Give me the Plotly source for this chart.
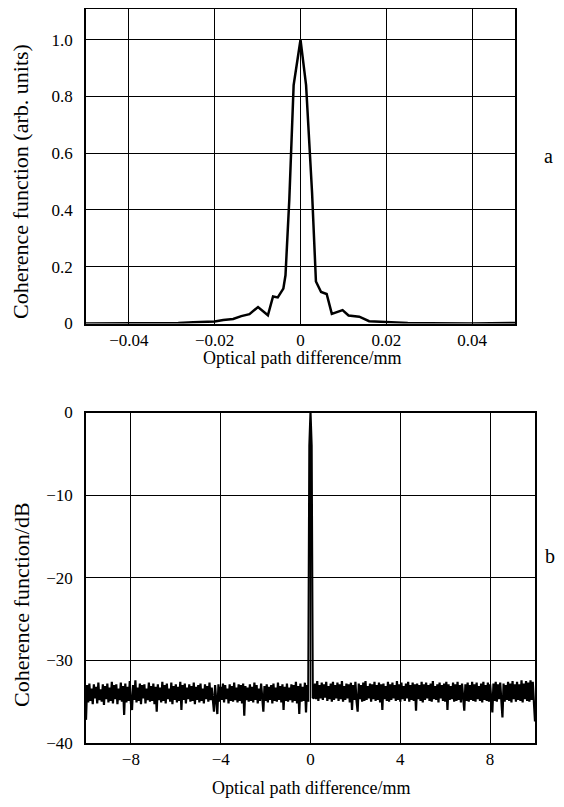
import numpy as np
import plotly.graph_objects as go

# the page body has an 8px margin on every side, so the figure is sized to fit inside it
OFF = 8
W, H = 564 - 2 * OFF, 807 - 2 * OFF

# ---------------- Panel (a): coherence function, linear ----------------
opd_a = [-0.05, -0.04, -0.035, -0.03, -0.0285, -0.025, -0.02, -0.018, -0.0157, -0.0138,
         -0.0119, -0.0099, -0.0076, -0.0064, -0.0053, -0.004, -0.0035, -0.0026, -0.0016, 0.0,
         0.0013, 0.0027, 0.0036, 0.0048, 0.0061, 0.0073, 0.0098, 0.0112, 0.0137, 0.016,
         0.0199, 0.025, 0.03, 0.04, 0.05]
coh_a = [0.0, 0.0, 0.0, 0.001, 0.002, 0.004, 0.007, 0.012, 0.016, 0.026,
         0.033, 0.058, 0.029, 0.095, 0.092, 0.123, 0.17, 0.44, 0.84, 1.0,
         0.84, 0.46, 0.148, 0.111, 0.104, 0.034, 0.047, 0.028, 0.024, 0.008,
         0.005, 0.002, 0.001, 0.0, 0.002]
xticks_a = [-0.04, -0.02, 0, 0.02, 0.04]
xtext_a = ["\u22120.04", "\u22120.02", "0", "0.02", "0.04"]
yticks_a = [0, 0.2, 0.4, 0.6, 0.8, 1.0]
ytext_a = ["0", "0.2", "0.4", "0.6", "0.8", "1.0"]

# ---------------- Panel (b): coherence function, dB ----------------
# noise floor read off the picture, sampled every 0.05 mm
left_start, left_step = -10.0, 0.05
noise_left = [
    -37.2, -33.0, -35.1, -32.8, -34.9, -33.4, -35.3, -32.9, -34.6, -33.2, -35.2, -32.7, -34.8, -33.5, -35.0, -32.9, -35.4, -33.1, -34.7, -32.8,
    -35.1, -33.3, -34.9, -32.6, -35.2, -33.0, -34.7, -32.9, -35.3, -33.4, -34.8, -32.7, -35.0, -33.1, -36.6, -32.8, -35.1, -33.2, -34.9, -32.5,
    -35.2, -36.0, -33.0, -34.8, -32.4, -35.1, -33.3, -34.9, -32.8, -35.3, -33.0, -34.6, -32.9, -35.2, -33.4, -34.8, -32.7, -35.0, -33.1, -34.9,
    -32.8, -35.3, -33.2, -36.2, -32.9, -34.8, -33.3, -35.1, -32.6, -34.9, -33.0, -35.2, -32.8, -34.7, -33.4, -35.0, -32.7, -35.3, -33.1, -34.8,
    -32.9, -35.1, -33.2, -34.9, -32.6, -36.0, -33.0, -34.8, -32.8, -35.2, -33.3, -34.7, -32.9, -35.0, -33.1, -34.9, -32.7, -35.3, -33.2, -34.8,
    -33.0, -35.1, -32.8, -34.9, -33.4, -35.2, -32.9, -34.7, -33.1, -35.0, -32.7, -34.8, -33.3, -35.1, -36.2, -33.0, -34.9, -36.5, -32.9, -35.0,
    -33.2, -34.8, -32.8, -35.1, -33.0, -34.7, -33.4, -35.2, -32.9, -34.9, -33.1, -35.0, -32.7, -34.8, -33.3, -35.1, -32.9, -34.9, -33.0, -35.2,
    -32.8, -36.7, -33.1, -34.8, -33.3, -35.0, -32.9, -34.9, -33.2, -35.1, -32.7, -34.8, -33.0, -35.2, -33.4, -34.9, -32.8, -35.0, -36.2, -33.1,
    -34.9, -32.9, -35.1, -33.2, -34.8, -33.0, -35.2, -32.8, -34.9, -33.3, -35.0, -32.7, -34.8, -33.1, -35.1, -32.9, -36.0, -33.2, -34.9, -32.8,
    -35.0, -33.3, -34.8, -32.9, -35.1, -33.0, -34.9, -32.6, -35.2, -33.1, -36.5, -32.8, -35.0, -33.2, -34.9, -32.7, -36.3, -33.0,
]
peak_x = [-0.1, -0.05, 0.0, 0.05, 0.1]
peak_db = [-35.0, -4.0, 0.0, -4.0, -34.5]
right_start, right_step = 0.15, 0.05
noise_right = [
    -34.6, -32.8, -34.7, -32.5, -34.9, -33.0, -34.6, -32.7, -34.8, -32.9, -34.5, -32.6, -34.9, -33.1, -34.7, -32.8, -35.0, -32.6, -34.8, -33.0,
    -34.6, -32.7, -34.9, -32.9, -34.7, -32.5, -35.0, -33.1, -34.8, -32.8, -34.6, -32.9, -35.1, -32.7, -36.0, -33.0, -34.8, -32.6, -34.9, -36.2,
    -32.8, -34.7, -33.0, -35.0, -32.7, -34.9, -32.5, -34.8, -33.1, -34.6, -32.8, -35.0, -32.9, -34.7, -32.6, -34.9, -33.0, -34.8, -32.7, -35.1,
    -32.9, -36.0, -32.8, -34.7, -33.1, -34.9, -32.6, -35.0, -32.9, -34.8, -32.7, -34.6, -33.0, -34.9, -32.5, -34.8, -32.9, -35.0, -32.7, -34.7,
    -33.1, -34.9, -32.8, -34.6, -32.6, -35.0, -33.0, -34.8, -32.7, -34.9, -32.9, -36.1, -32.8, -34.7, -33.0, -34.9, -32.6, -35.1, -32.9, -34.8,
    -32.7, -34.6, -33.0, -34.9, -32.8, -35.0, -32.5, -34.7, -33.1, -34.8, -32.9, -35.1, -32.7, -34.6, -33.0, -34.9, -32.8, -35.0, -32.6, -36.0,
    -32.9, -34.8, -33.1, -34.7, -32.7, -35.0, -32.9, -34.9, -32.6, -34.8, -33.0, -35.1, -32.8, -34.7, -36.1, -32.9, -34.9, -32.7, -35.0, -33.0,
    -34.8, -32.6, -34.9, -32.9, -35.0, -32.7, -34.7, -33.1, -34.9, -32.8, -35.1, -32.6, -34.8, -33.0, -34.9, -32.7, -35.0, -32.9, -34.8, -36.3,
    -32.8, -34.9, -32.6, -35.0, -32.9, -34.7, -32.7, -34.9, -36.9, -32.8, -35.0, -33.0, -34.8, -32.6, -34.9, -32.8, -35.1, -32.5, -34.7, -32.9,
    -35.0, -32.6, -34.8, -32.9, -34.9, -32.4, -35.1, -32.8, -34.7, -32.5, -34.9, -32.7, -35.0, -32.4, -34.8, -32.6, -35.2, -37.4,
]
xticks_b = [-8, -4, 0, 4, 8]
xtext_b = ["\u22128", "\u22124", "0", "4", "8"]
yticks_b = [-40, -30, -20, -10, 0]
ytext_b = ["\u221240", "\u221230", "\u221220", "\u221210", "0"]

x_left = np.round(left_start + left_step * np.arange(len(noise_left)), 3)
x_right = np.round(right_start + right_step * np.arange(len(noise_right)), 3)
x_b = list(x_left) + peak_x + list(x_right)
y_b = noise_left + peak_db + noise_right

FONT = "Liberation Serif"

fig = go.Figure()
fig.add_trace(go.Scatter(x=opd_a, y=coh_a, mode="lines",
                         line=dict(color="black", width=2.5),
                         xaxis="x", yaxis="y", showlegend=False, hoverinfo="skip"))
fig.add_trace(go.Scatter(x=x_b, y=y_b, mode="lines",
                         line=dict(color="black", width=2.2),
                         xaxis="x2", yaxis="y2", showlegend=False, hoverinfo="skip"))


def px_x(p):
    return (p - OFF) / W


def px_y(p):
    return 1 - (p - OFF) / H


def axis(**kw):
    d = dict(showgrid=True, gridcolor="black", gridwidth=1.2,
             showline=True, linecolor="black", linewidth=1.6, mirror=True,
             ticks="", zeroline=False, automargin=False,
             tickfont=dict(family=FONT, size=17, color="black"),
             fixedrange=True)
    d.update(kw)
    return d


def label(text, x, y, size, angle=0):
    return dict(text=text, x=px_x(x), y=px_y(y), xref="paper", yref="paper",
                xanchor="center", yanchor="middle", showarrow=False, textangle=angle,
                font=dict(family=FONT, size=size, color="black"))


fig.update_layout(
    template="none",
    width=W, height=H, autosize=False,
    margin=dict(l=0, r=0, t=0, b=0, pad=0),
    font=dict(family=FONT, size=17, color="black"),
    paper_bgcolor="white", plot_bgcolor="white",
    xaxis=axis(domain=[px_x(86), px_x(515)], range=[-0.05, 0.05], anchor="y",
               tickvals=xticks_a, ticktext=xtext_a),
    yaxis=axis(domain=[px_y(323.5), px_y(8.5)], range=[0, 1.11], anchor="x",
               tickvals=yticks_a, ticktext=ytext_a, ticklabelstandoff=8),
    xaxis2=axis(domain=[px_x(86), px_x(535)], range=[-10, 10], anchor="y2",
                tickvals=xticks_b, ticktext=xtext_b),
    yaxis2=axis(domain=[px_y(743), px_y(412.5)], range=[-40, 0], anchor="x2",
                tickvals=yticks_b, ticktext=ytext_b, ticklabelstandoff=8),
    annotations=[
        label("Optical path difference/mm", 302, 358, 18),
        label("Optical path difference/mm", 311, 788, 18),
        label("Coherence function (arb. units)", 21, 182, 22, -90),
        label("Coherence function/dB", 21, 605, 22, -90),
        label("a", 548, 156, 20),
        label("b", 550, 556, 20),
    ],
)

fig.write_html("out.html")
